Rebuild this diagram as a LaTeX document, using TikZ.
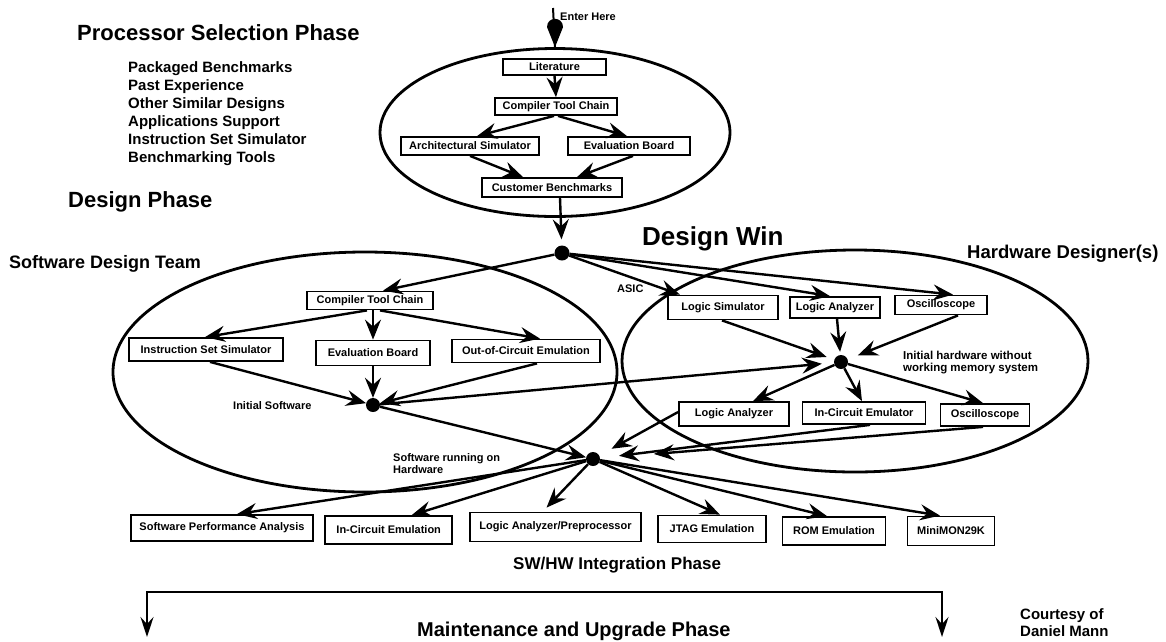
\documentclass[tikz,border=0pt]{standalone}
\usepackage{fontspec}
\setmainfont{Liberation Sans}
\usetikzlibrary{arrows.meta,shapes.geometric}
\newcommand\myfs[1]{\fontsize{#1}{#1}\selectfont\bfseries}
\begin{document}
\begin{tikzpicture}[x=1pt,y=-1pt,
  box/.style 2 args={draw, fill=white, line width=1.8pt, inner sep=0pt, minimum width=#1pt, minimum height=#2pt, font=\myfs{11}},
  arr/.style={line width=2.4pt, -{Stealth[length=20pt,width=16pt,inset=7pt]}},
  barr/.style={line width=2.4pt, {Stealth[length=20pt,width=13pt,inset=7pt]}-{Stealth[length=20pt,width=13pt,inset=7pt]}},
  dot/.style={circle, fill=black, inner sep=0pt, minimum size=14pt},
  ell/.style 2 args={ellipse, draw, line width=2.8pt, inner sep=0pt, minimum width=#1pt, minimum height=#2pt},
  lbl/.style={anchor=base west, inner sep=0pt}]
\useasboundingbox (0,0) rectangle (1166,641);

% ellipses
\node[ell={350}{168}] (topell) at (555,132.5) {};
\node[ell={504}{240}] (swell) at (365,372) {};
\node[ell={466}{222}] (hwell) at (855,361) {};

% texts
\node[lbl, font=\myfs{22}] (t1) at (77,40) {Processor Selection Phase};
\node[lbl, font=\myfs{15}] (l1) at (128,72) {Packaged Benchmarks};
\node[lbl, font=\myfs{15}] (l2) at (128,90) {Past Experience};
\node[lbl, font=\myfs{15}] (l3) at (128,108) {Other Similar Designs};
\node[lbl, font=\myfs{15}] (l4) at (128,126) {Applications Support};
\node[lbl, font=\myfs{15}] (l5) at (128,144) {Instruction Set Simulator};
\node[lbl, font=\myfs{15}] (l6) at (128,162) {Benchmarking Tools};
\node[lbl, font=\myfs{22}] (t2) at (68,207) {Design Phase};
\node[lbl, font=\myfs{26}] (t3) at (642,245) {Design Win};
\node[lbl, font=\myfs{18}] (t4) at (9,268) {Software Design Team};
\node[lbl, font=\myfs{18.5}] (t5) at (967,258) {Hardware Designer(s)};
\node[lbl, font=\myfs{11}] (asic) at (617,292) {ASIC};
\node[lbl, font=\myfs{11}] (enter) at (560,20) {Enter Here};
\node[lbl, font=\myfs{11}] (isl) at (233,409) {Initial Software};
\node[lbl, font=\myfs{11}] (swr1) at (393,461) {Software running on};
\node[lbl, font=\myfs{11}] (swr2) at (393,473) {Hardware};
\node[lbl, font=\myfs{11.5}] (ih1) at (903,359) {Initial hardware without};
\node[lbl, font=\myfs{11.5}] (ih2) at (903,371) {working memory system};
\node[lbl, font=\myfs{17}] (t6) at (513,569) {SW/HW Integration Phase};
\node[lbl, font=\myfs{20}] (t7) at (417,636) {Maintenance and Upgrade Phase};
\node[lbl, font=\myfs{15}] (c1) at (1020,619.5) {Courtesy of};
\node[lbl, font=\myfs{15}] (c2) at (1020,636) {Daniel Mann};

% boxes top
\node[box={103}{16}] (lit) at (554.5,67) {Literature};
\node[box={122}{17}] (ctc1) at (556,106.5) {Compiler Tool Chain};
\node[box={138}{18}] (arch) at (470,146) {Architectural Simulator};
\node[box={122}{18}] (eval1) at (629,146) {Evaluation Board};
\node[box={140}{19}] (cust) at (552,187.5) {Customer Benchmarks};

% boxes software
\node[box={126}{18}] (ctc2) at (370,300.5) {Compiler Tool Chain};
\node[box={154}{23}] (iss) at (206,349.5) {Instruction Set Simulator};
\node[box={114}{25}] (eval2) at (373,353) {Evaluation Board};
\node[box={148}{23}] (ooc) at (526,351) {Out-of-Circuit Emulation};

% boxes hardware
\node[box={110}{24}] (lsim) at (723,307.5) {Logic Simulator};
\node[box={90}{21}] (la1) at (835,307.5) {Logic Analyzer};
\node[box={92}{19}] (osc1) at (941,305) {Oscilloscope};
\node[box={110}{24}] (la2) at (734,414) {Logic Analyzer};
\node[box={123}{22}] (ice) at (864,413) {In-Circuit Emulator};
\node[box={89}{22}] (osc2) at (985,415) {Oscilloscope};

% boxes bottom
\node[box={182}{26}] (spa) at (222,528) {Software Performance Analysis};
\node[box={127}{28}] (icem) at (388.7,530) {In-Circuit Emulation};
\node[box={171}{29}] (lap) at (555.5,527) {Logic Analyzer/Preprocessor};
\node[box={108}{27}] (jtag) at (712,529) {JTAG Emulation};
\node[box={103}{28}] (rom) at (834,531) {ROM Emulation};
\node[box={87}{29}] (mini) at (951,531) {MiniMON29K};

% dots
\node[dot, minimum size=15pt] (win) at (562,253) {};
\node[dot] (isw) at (373,405) {};
\node[dot] (ihw) at (841,362) {};
\node[dot] (swr) at (593,459) {};

% entry
\coordinate (entry) at (553,8);
\draw[line width=2pt] (entry) -- (topell.north);
\fill (topell.north) -- ++(-8,-20) .. controls +(0,-11) and +(0,-11) .. ++(16,0) -- cycle;

% processor selection
\draw[arr] (lit.south) -- (ctc1.north);
\draw[arr] ([xshift=-2pt]ctc1.south) -- ([xshift=7pt]arch.north);
\draw[arr] ([xshift=2pt]ctc1.south) -- ([xshift=-2pt]eval1.north);
\draw[arr] (arch.south) -- ([xshift=-29pt]cust.north);
\draw[arr] ([xshift=4pt]eval1.south) -- ([xshift=25pt]cust.north);
\draw[arr, shorten >=6pt] ([xshift=8pt]cust.south) -- (win);

% design win
\draw[arr] (win) -- ([xshift=13pt]ctc2.north);
\draw[arr] (win) -- ([xshift=-43pt]lsim.north);
\draw[arr] (win) -- ([xshift=-5pt]la1.north);
\draw[arr] (win) -- ([xshift=12pt]osc1.north);

% software team
\draw[arr] ([xshift=-3pt]ctc2.south) -- ([xshift=-1pt]iss.north);
\draw[arr] ([xshift=3pt]ctc2.south) -- (eval2.north);
\draw[arr] ([xshift=10pt]ctc2.south) -- ([xshift=14pt]ooc.north);
\draw[arr] ([xshift=4pt]iss.south) -- (isw);
\draw[arr] (eval2.south) -- (isw);
\draw[arr] ([xshift=11pt]ooc.south) -- (isw);
\draw[arr, shorten >=12pt] (isw) -- (ihw);
\draw[arr] (isw) -- (swr);

% hardware
\draw[arr, shorten >=8pt] ([xshift=-1pt]lsim.south) -- (ihw);
\draw[arr, shorten >=3pt] ([xshift=2pt]la1.south) -- (ihw);
\draw[arr, shorten >=11pt] ([xshift=17pt]osc1.south) -- (ihw);
\draw[arr] (ihw) -- ([xshift=19pt]la2.north);
\draw[arr] (ihw) -- ([xshift=-2pt]ice.north);
\draw[arr] (ihw) -- ([xshift=-2pt]osc2.north);
\draw[arr, shorten >=14pt] ([yshift=2pt]la2.west) -- (swr);
\draw[arr, shorten >=19pt] ([xshift=6pt]ice.south) -- (swr);
\draw[arr, shorten >=54pt] ([xshift=-2pt]osc2.south) -- (swr);

% integration
\draw[arr] (swr) -- ([xshift=15pt]spa.north);
\draw[arr] (swr) -- ([xshift=23pt]icem.north);
\draw[arr] (swr) -- ([xshift=-9pt,yshift=4pt]lap.north);
\draw[arr] (swr) -- ([xshift=8pt]jtag.north);
\draw[arr] (swr) -- ([xshift=-7pt]rom.north);
\draw[arr] (swr) -- ([xshift=-11pt]mini.north);

% maintenance bracket
\coordinate (bl) at (147,637);
\coordinate (bm) at (544,592);
\coordinate (br) at (942,637);
\draw[barr] (bl) |- (bm) -| (br);
\end{tikzpicture}
\end{document}
